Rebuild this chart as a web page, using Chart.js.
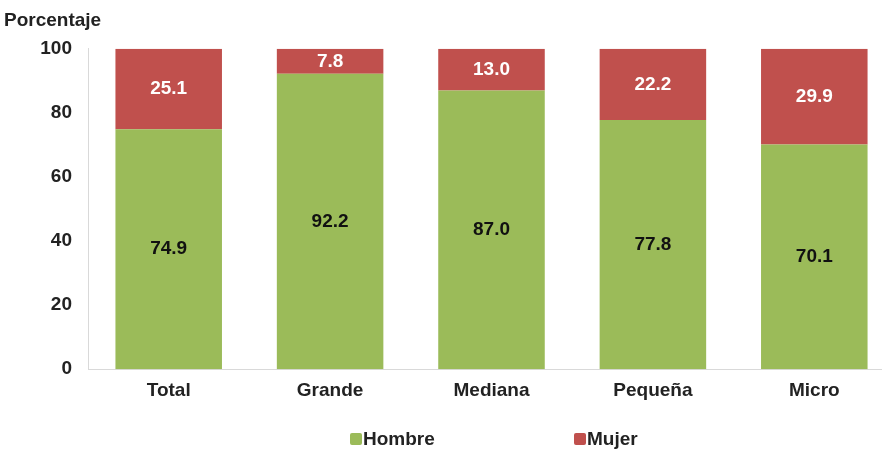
<!DOCTYPE html>
<html>
<head>
<meta charset="utf-8">
<script src="https://cdn.jsdelivr.net/npm/chart.js@4"></script>
<style>
  body { margin: 0; overflow: hidden; background: #fff; font-family: "Liberation Sans", Arial, sans-serif; }
  .wrap { position: relative; width: 896px; height: 450px; }
  .legend { position: absolute; top: 428px; font-weight: bold; font-size: 19px; color: #222; display: flex; align-items: center; }
  .legend span.box { display: inline-block; width: 12px; height: 12px; border-radius: 2px; margin-right: 1px; }
</style>
</head>
<body>
<div class="wrap">
  <canvas id="chart" width="896" height="450"></canvas>
  <div class="legend" style="left:350px"><span class="box" style="background:#9BBB59"></span>Hombre</div>
  <div class="legend" style="left:574px"><span class="box" style="background:#C0504D"></span>Mujer</div>
</div>
<script>
const categorias = ['Total', 'Grande', 'Mediana', 'Pequeña', 'Micro'];
const hombre = [74.9, 92.2, 87.0, 77.8, 70.1];
const mujer = [25.1, 7.8, 13.0, 22.2, 29.9];
const ticksY = [0, 20, 40, 60, 80, 100];

const fuente = { family: '"Liberation Sans", Arial', size: 19, weight: 'bold' };

// etiquetas dentro de las barras
const etiquetas = {
    id: 'etiquetas',
    afterDatasetsDraw(chart) {
        const ctx = chart.ctx;
        ctx.save();
        ctx.font = 'bold 19px "Liberation Sans", Arial';
        ctx.textAlign = 'center';
        ctx.textBaseline = 'middle';
        chart.data.datasets.forEach((ds, i) => {
            const meta = chart.getDatasetMeta(i);
            ctx.fillStyle = i === 0 ? '#111' : '#fff';
            meta.data.forEach((bar, j) => {
                const p = bar.getProps(['x', 'y', 'base'], true);
                ctx.fillText(ds.data[j].toFixed(1), p.x, (p.y + p.base) / 2);
            });
        });
        ctx.restore();
    }
};

const ctx = document.getElementById('chart');
const grafica = new Chart(ctx, {
    type: 'bar',
    data: {
        labels: categorias,
        datasets: [{
            label: 'Hombre',
            data: hombre,
            backgroundColor: '#9BBB59',
            categoryPercentage: 0.66,
            barPercentage: 1
        }, {
            label: 'Mujer',
            data: mujer,
            backgroundColor: '#C0504D',
            categoryPercentage: 0.66,
            barPercentage: 1
        }]
    },
    options: {
        responsive: false,
        animation: false,
        layout: { padding: { left: 4, right: 1, top: 0, bottom: 38 } },
        plugins: {
            legend: { display: false },
            tooltip: { enabled: false },
            title: {
                display: true,
                text: 'Porcentaje',
                align: 'start',
                color: '#222',
                font: fuente,
                padding: { top: 9, bottom: 17 }
            }
        },
        scales: {
            x: {
                stacked: true,
                grid: { display: false, drawTicks: false },
                border: { color: '#d9d9d9' },
                ticks: { color: '#222', padding: 10, font: fuente }
            },
            y: {
                stacked: true,
                min: 0,
                max: 100,
                afterBuildTicks: s => { s.ticks = ticksY.map(v => ({ value: v })); },
                afterFit: s => { s.width = 84; },
                grid: { display: false, drawTicks: false },
                border: { color: '#d9d9d9' },
                ticks: { color: '#222', padding: 16, font: fuente }
            }
        }
    },
    plugins: [etiquetas]
});
</script>
</body>
</html>
